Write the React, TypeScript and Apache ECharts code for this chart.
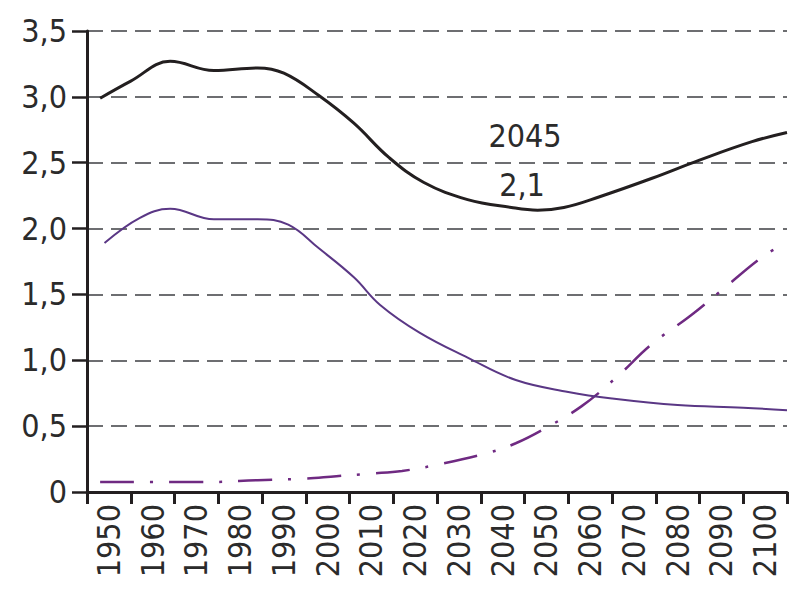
import React, { useEffect, useRef } from "react";
import * as echarts from "echarts";

const categories = ["1950", "1960", "1970", "1980", "1990", "2000", "2010", "2020", "2030", "2040", "2050", "2060", "2070", "2080", "2090", "2100"];
const yTicks = [0, 0.5, 1, 1.5, 2, 2.5, 3, 3.5];

const blackYears = [1948, 1955, 1964, 1974, 1984, 1990, 1998, 2006, 2014, 2022, 2032, 2042, 2048, 2054, 2062, 2074, 2085, 2097, 2105];
const blackValues = [2.99, 3.12, 3.27, 3.2, 3.22, 3.18, 3.01, 2.8, 2.54, 2.35, 2.22, 2.16, 2.14, 2.16, 2.24, 2.38, 2.52, 2.66, 2.73];

const purpleYears = [1949, 1957, 1964, 1974, 1984, 1991, 1998, 2006, 2012, 2021, 2032, 2043, 2055, 2065, 2080, 2095, 2105];
const purpleValues = [1.89, 2.08, 2.15, 2.07, 2.07, 2.03, 1.85, 1.63, 1.42, 1.21, 1.02, 0.85, 0.76, 0.71, 0.66, 0.64, 0.62];

const dashYears = [1948, 1973, 1984, 1994, 2002, 2010, 2017, 2024, 2037, 2043, 2049, 2058, 2066, 2074, 2083, 2090, 2100, 2105];
const dashValues = [0.076, 0.076, 0.09, 0.1, 0.12, 0.14, 0.16, 0.2, 0.3, 0.37, 0.47, 0.65, 0.87, 1.12, 1.34, 1.53, 1.8, 1.89];

const annotationYear = "2045";
const annotationValue = "2,1";

const FONT = "'Liberation Sans Narrow', 'DejaVu Sans Condensed', 'Arial Narrow', sans-serif";
const TEXT = "#2b2b2b";
const AXIS = "#231f20";

const pairs = (xs: number[], ys: number[]) => xs.map((x, i) => [x, ys[i]]);

export default function App() {
  const ref = useRef<HTMLDivElement>(null);
  useEffect(() => {
    document.body.style.margin = "0";
    const chart = echarts.init(ref.current!, null, { renderer: "svg" });
    chart.setOption({
      animation: false,
      backgroundColor: "#ffffff",
      grid: { left: 87, right: 10, top: 31, bottom: 103, containLabel: false },
      xAxis: [
        {
          type: "category",
          data: categories,
          boundaryGap: true,
          axisLine: { lineStyle: { color: AXIS, width: 3 } },
          axisTick: { show: true, length: 12, lineStyle: { color: AXIS, width: 3 } },
          axisLabel: { rotate: 90, margin: 12, color: TEXT, fontFamily: FONT, fontSize: 32, interval: 0 },
          splitLine: { show: false },
        },
        { type: "value", min: 1945, max: 2105, show: false },
      ],
      yAxis: {
        type: "value",
        min: yTicks[0],
        max: yTicks[yTicks.length - 1],
        interval: 0.5,
        axisLine: { show: true, lineStyle: { color: AXIS, width: 3 } },
        axisTick: { show: true, length: 15, lineStyle: { color: AXIS, width: 2.5 } },
        axisLabel: {
          margin: 20,
          color: TEXT,
          fontFamily: FONT,
          fontSize: 32,
          formatter: (v: number) => (v === 0 ? "0" : v.toFixed(1).replace(".", ",")),
        },
        splitLine: { show: true, lineStyle: { color: "#6d6e71", width: 2, type: [16, 8] } },
      },
      series: [
        {
          type: "line",
          xAxisIndex: 1,
          data: pairs(dashYears, dashValues),
          smooth: 0.4,
          symbol: "none",
          lineStyle: { color: "#6f2a82", width: 2.5, type: [34, 16, 3, 16] },
        },
        {
          type: "line",
          xAxisIndex: 1,
          data: pairs(purpleYears, purpleValues),
          smooth: 0.4,
          symbol: "none",
          lineStyle: { color: "#5a3785", width: 2 },
        },
        {
          type: "line",
          xAxisIndex: 1,
          data: pairs(blackYears, blackValues),
          smooth: 0.4,
          symbol: "none",
          lineStyle: { color: "#231f20", width: 3 },
        },
      ],
      graphic: [
        { type: "text", x: 525, y: 136, style: { text: annotationYear, fill: TEXT, font: `32px ${FONT}`, align: "center", verticalAlign: "middle" } },
        { type: "text", x: 522, y: 185, style: { text: annotationValue, fill: TEXT, font: `32px ${FONT}`, align: "center", verticalAlign: "middle" } },
      ],
    });
    return () => chart.dispose();
  }, []);
  return <div ref={ref} style={{ width: 797, height: 595 }} />;
}
